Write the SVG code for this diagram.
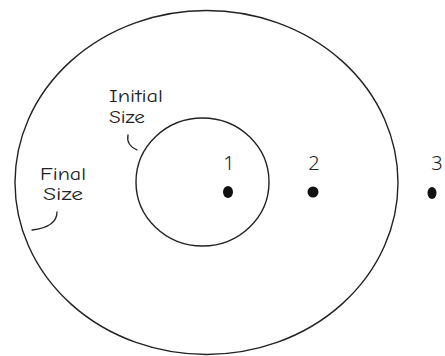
<svg xmlns="http://www.w3.org/2000/svg" width="445" height="356" viewBox="0 0 445 356">
<style>
.ring{fill:none;stroke:#222;stroke-width:1.4}
.tick{fill:none;stroke:#222;stroke-width:1.3;stroke-linecap:round}
.lbl{font-family:"Comic Neue","Noto Sans","DejaVu Sans",sans-serif;font-size:18px;fill:#222}
.num{font-family:"Noto Sans","DejaVu Sans",sans-serif;font-size:20px;font-weight:300;fill:#222;text-anchor:middle}
.dot{fill:#111}
</style>
<rect width="445" height="356" fill="#fff"/>
<g id="outer"><ellipse class="ring" cx="206.5" cy="182.5" rx="191.5" ry="172"/></g>
<g id="inner"><ellipse class="ring" cx="202.5" cy="182" rx="66.5" ry="64"/></g>
<g id="point1"><text class="num" x="229" y="170">1</text><ellipse class="dot" cx="228" cy="192" rx="5" ry="6"/></g>
<g id="point2"><text class="num" x="314" y="170">2</text><ellipse class="dot" cx="313" cy="192" rx="5.5" ry="5.5"/></g>
<g id="point3"><text class="num" x="437" y="170">3</text><ellipse class="dot" cx="432" cy="193" rx="4.5" ry="6"/></g>
<g id="label-initial"><text class="lbl" x="109" y="102" textLength="54" lengthAdjust="spacingAndGlyphs">Initial</text><text class="lbl" x="109" y="123" textLength="36" lengthAdjust="spacingAndGlyphs">Size</text></g>
<g id="label-final"><text class="lbl" x="40" y="180" textLength="46" lengthAdjust="spacingAndGlyphs">Final</text><text class="lbl" x="43" y="200" textLength="40" lengthAdjust="spacingAndGlyphs">Size</text></g>
<g id="connectors">
<path class="tick" d="M128,135 Q126,145 137,150"/>
<path class="tick" d="M57,212 Q57,227 32,230"/>
</g>
</svg>
